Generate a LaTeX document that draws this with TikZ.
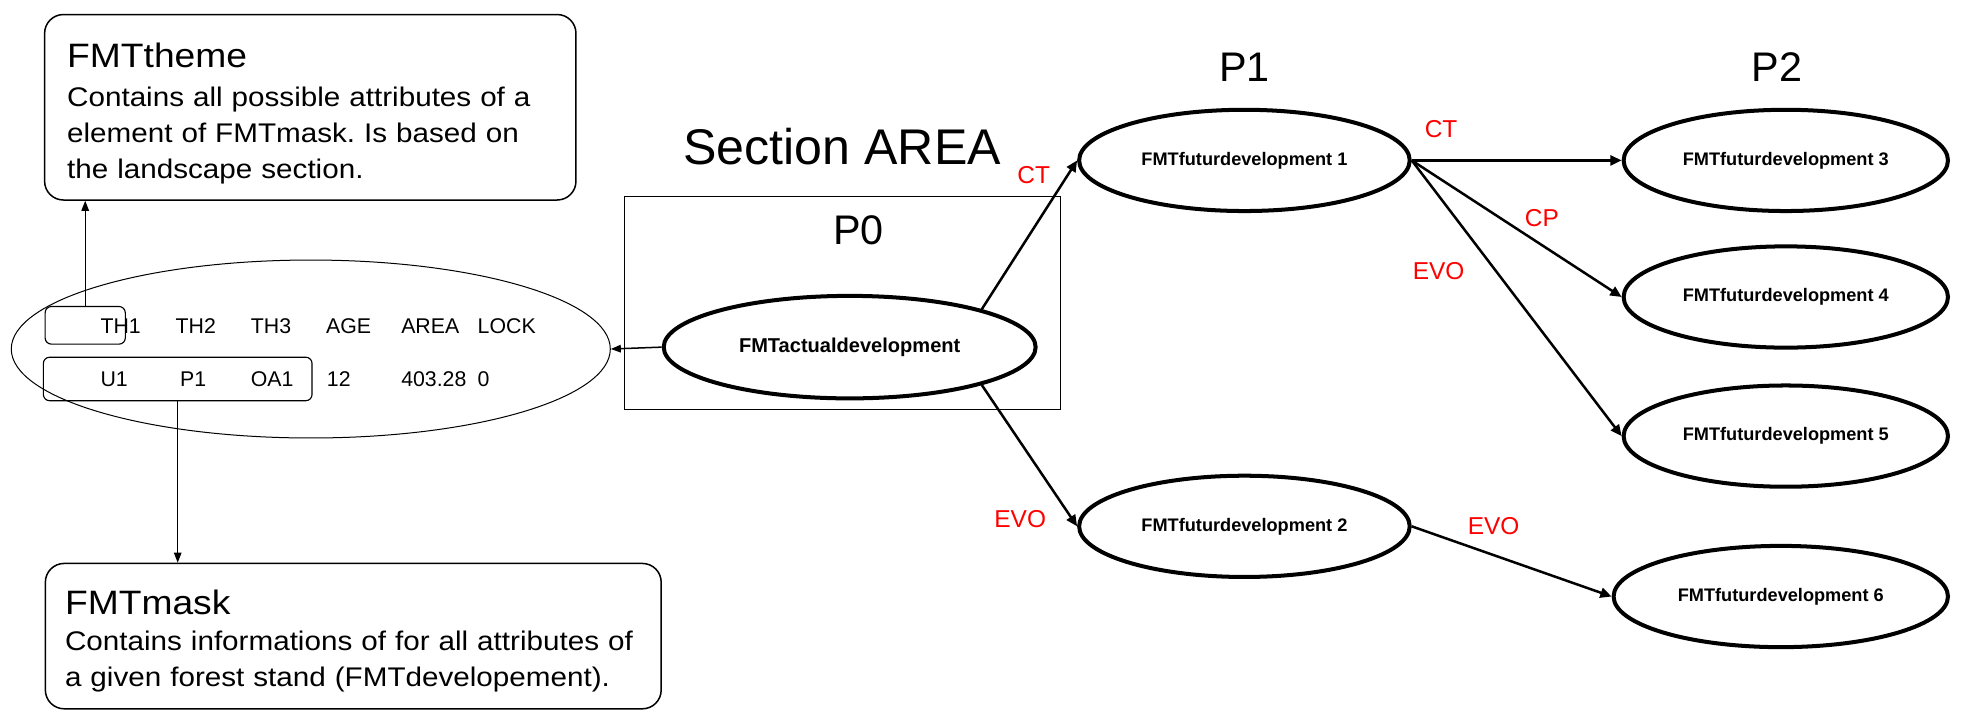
\documentclass[tikz,border=0pt]{standalone}
\usepackage{fontspec}
\setmainfont{Liberation Sans}
\newfontfamily\boxfont[FakeStretch=1.1]{Liberation Sans}
\usetikzlibrary{arrows.meta, positioning, shapes.geometric}
\frenchspacing

\begin{document}
\begin{tikzpicture}[
    x=1pt, y=-1pt,
    devnode/.style={ellipse, draw=black, line width=3.2pt, inner sep=0pt, minimum width=263.8pt, minimum height=80.8pt, font=\fontsize{14.5}{17}\selectfont\bfseries},
    notebox/.style={rectangle, rounded corners=15pt, draw=black, line width=1.2pt, align=left, anchor=north west, inner ysep=0pt, font=\boxfont\fontsize{21.5}{28.6}\selectfont},
    cellbox/.style={rectangle, rounded corners=5pt, draw=black, line width=0.9pt, inner sep=0pt},
    celltext/.style={anchor=base west, inner sep=0pt, font=\fontsize{17}{20}\selectfont},
    phaselabel/.style={inner sep=0pt, font=\fontsize{33}{38}\selectfont},
    edgelabel/.style={inner sep=0pt, text=red, font=\fontsize{19.5}{22}\selectfont},
    flow/.style={-{Triangle[length=9pt, width=8pt]}, line width=2pt},
    link/.style={-{Triangle[length=8pt, width=6pt]}, line width=0.9pt}
]
\useasboundingbox (0,0) rectangle (1568,580);

% Notes
\node[notebox, inner xsep=18pt, text width=388pt, text height=42.2pt, text depth=105.8pt] (theme) at (35,11)
    {{\fontsize{27}{30}\selectfont FMTtheme}\\[2.5pt] Contains all possible attributes of a\\ element of FMTmask. Is based on\\ the landscape section.};
\node[notebox, inner xsep=15.7pt, text width=460pt, text height=41pt, text depth=75pt] (mask) at (35.6,449)
    {{\fontsize{27}{30}\selectfont FMTmask}\\ Contains informations of for all attributes of\\ a given forest stand (FMTdevelopement).};

% Attribute table
\node[ellipse, draw=black, line width=0.8pt, inner sep=0pt, minimum width=478pt, minimum height=142pt] (table) at (248,278.5) {};
\node[cellbox, minimum width=64pt, minimum height=30pt] (thbox) at (68,259.6) {};
\node[cellbox, minimum width=214.4pt, minimum height=34.7pt] (rowbox) at (141.8,302.4) {};
\node[celltext] (th1)  at (80,266)  {TH1};
\node[celltext] (th2)  at (140,266) {TH2};
\node[celltext] (th3)  at (200,266) {TH3};
\node[celltext] (age)  at (260,266) {AGE};
\node[celltext] (area) at (320,266) {AREA};
\node[celltext] (lock) at (381,266) {LOCK};
\node[celltext] (u1)      at (80,308.5)    {U1};
\node[celltext] (p1val)   at (143.6,308.5) {P1};
\node[celltext] (oa1)     at (200,308.5)   {OA1};
\node[celltext] (ageval)  at (260.7,308.5) {12};
\node[celltext] (areaval) at (320,308.5)   {403.28};
\node[celltext] (lockval) at (381,308.5)   {0};

% Section
\node[rectangle, draw=black, line width=0.8pt, inner sep=0pt, minimum width=348pt, minimum height=170pt] (sectbox) at (672,242) {};
\node[inner sep=0pt, font=\fontsize{40}{46}\selectfont] (sectitle) [above=25pt of sectbox] {Section AREA};
\node[phaselabel, anchor=base] (p0lab) at (685,195.5) {P0};
\node[devnode, minimum width=296.8pt, minimum height=81.8pt, font=\fontsize{16}{19}\selectfont\bfseries] (actual) at (678,277) {FMTactualdevelopment};

% Developments
\node[devnode] (fut1) at (993,128) {FMTfuturdevelopment 1};
\node[devnode] (fut2) at (993,420) {FMTfuturdevelopment 2};
\node[devnode, minimum width=258.8pt] (fut3) at (1425,128) {FMTfuturdevelopment 3};
\node[devnode, minimum width=258.8pt] (fut4) at (1425,237) {FMTfuturdevelopment 4};
\node[devnode, minimum width=258.8pt] (fut5) at (1425,348) {FMTfuturdevelopment 5};
\node[devnode, minimum width=266.8pt] (fut6) at (1421,476) {FMTfuturdevelopment 6};
\node[phaselabel] (p1lab) [above=21pt of fut1] {P1};
\node[phaselabel] (p2lab) [above=21pt of fut3, xshift=-7pt] {P2};

% Arrows
\draw[link] (thbox.north) -- (thbox.north |- theme.south);
\draw[link] (rowbox.south) -- (rowbox.south |- mask.north);
\draw[link, line width=1.2pt] (actual.west) -- (table.east);
\draw[flow] (actual.16) -- (fut1.west) node[edgelabel, pos=0.9, left=13pt] {CT};
\draw[flow] (actual.-16) -- (fut2.west) node[edgelabel, pos=0.95, left=20pt] {EVO};
\draw[flow] (fut1.east) -- (fut3.west) node[edgelabel, pos=0.14, above=17pt] {CT};
\draw[flow] (fut1.east) -- (fut4.west) node[edgelabel, pos=0.62, above=14pt] {CP};
\draw[flow] (fut1.east) -- (fut5.west) node[edgelabel, pos=0.4, left=24pt] {EVO};
\draw[flow] (fut2.east) -- (fut6.west) node[edgelabel, pos=0.41, above=15pt] {EVO};

\end{tikzpicture}
\end{document}
